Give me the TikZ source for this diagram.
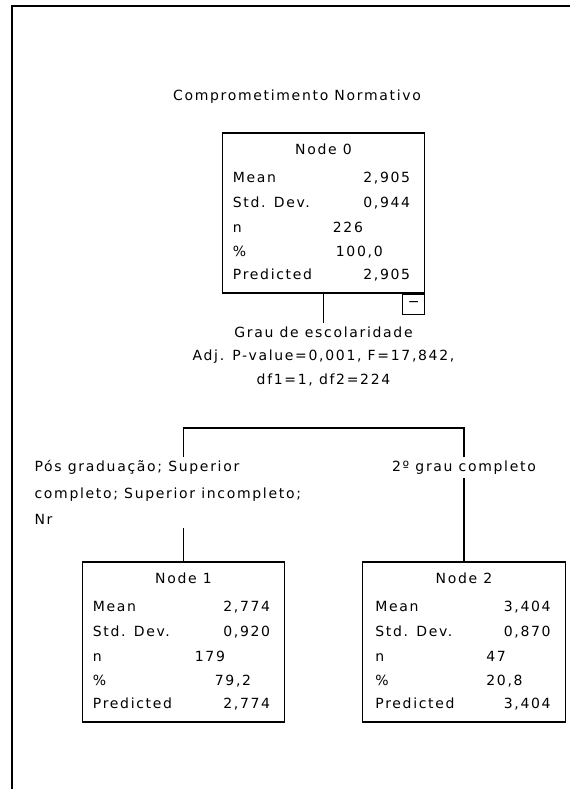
\documentclass[tikz,border=0pt]{standalone}
\usepackage{fontspec}
\setmainfont{DejaVu Sans}[LetterSpace=12]
\usetikzlibrary{positioning, calc}

\begin{document}
\begin{tikzpicture}[
    x=0.75pt, y=-0.75pt,
    every node/.style={font=\fontsize{10.5}{18.75}\selectfont, inner sep=0pt},
    treebox/.style={rectangle, draw=black, line width=0.8pt, minimum width=152pt, minimum height=120pt},
    foldbox/.style={rectangle, draw=black, line width=0.8pt, minimum width=16.5pt, minimum height=15pt},
    link/.style={black, line width=0.9pt},
    splitlabel/.style={inner sep=2.5pt, align=center, font=\fontsize{10.5}{17.6}\selectfont},
    catlabel/.style={inner sep=2.5pt, fill=white, align=left, font=\fontsize{10.5}{19.9}\selectfont}
]
\useasboundingbox (0,0) rectangle (570,789);
\draw[line width=2pt] (12,789) -- (12,6) -- (570,6);
\node (title) at (297,97) {Comprometimento Normativo};
% root
\node[treebox] (node0) at (323.5,213) {};
\node[anchor=base] (node0title) at ($(node0.north)+(0,22)$) {Node 0};
\foreach \lbl/\yy [count=\r] in {Mean/50, Std. Dev./75, n/100, \%/124, Predicted/147} {
    \node[anchor=base west] (node0lbl\r) at ($(node0.north west)+(11,\yy)$) {\lbl};
}
\node[anchor=base east] (node0mean) at ($(node0.north east)+(-15,50)$) {2,905};
\node[anchor=base east] (node0sd) at ($(node0.north east)+(-15,75)$) {0,944};
\node[anchor=base west] (node0n) at ($(node0.north west)+(111,100)$) {226};
\node[anchor=base west] (node0pct) at ($(node0.north west)+(114,124)$) {100,0};
\node[anchor=base east] (node0pred) at ($(node0.north east)+(-15,147)$) {2,905};
\node[foldbox, anchor=north east] (node0fold) at (node0.south east) {−};
\node[splitlabel, anchor=north] (split0) at (323.5,323) {Grau de escolaridade\\Adj. P-value=0,001, F=17,842,\\df1=1, df2=224};
\draw[link] (node0.south) -- (split0.north);
\coordinate (bar0) at (323.5,428);
% children
\node[treebox] (node1) at (183.5,642) {};
\node[anchor=base] (node1title) at ($(node1.north)+(0,22)$) {Node 1};
\foreach \lbl/\yy [count=\r] in {Mean/50, Std. Dev./75, n/100, \%/124, Predicted/147} {
    \node[anchor=base west] (node1lbl\r) at ($(node1.north west)+(11,\yy)$) {\lbl};
}
\node[anchor=base east] (node1mean) at ($(node1.north east)+(-15,50)$) {2,774};
\node[anchor=base east] (node1sd) at ($(node1.north east)+(-15,75)$) {0,920};
\node[anchor=base west] (node1n) at ($(node1.north west)+(113,100)$) {179};
\node[anchor=base west] (node1pct) at ($(node1.north west)+(133,124)$) {79,2};
\node[anchor=base east] (node1pred) at ($(node1.north east)+(-15,147)$) {2,774};
\node[treebox] (node2) at (464,642) {};
\node[anchor=base] (node2title) at ($(node2.north)+(0,22)$) {Node 2};
\foreach \lbl/\yy [count=\r] in {Mean/50, Std. Dev./75, n/100, \%/124, Predicted/147} {
    \node[anchor=base west] (node2lbl\r) at ($(node2.north west)+(13,\yy)$) {\lbl};
}
\node[anchor=base east] (node2mean) at ($(node2.north east)+(-15,50)$) {3,404};
\node[anchor=base east] (node2sd) at ($(node2.north east)+(-15,75)$) {0,870};
\node[anchor=base west] (node2n) at ($(node2.north west)+(124,100)$) {47};
\node[anchor=base west] (node2pct) at ($(node2.north west)+(124,124)$) {20,8};
\node[anchor=base east] (node2pred) at ($(node2.north east)+(-15,147)$) {3,404};
\node[catlabel, anchor=north west] (cat1) at (31,457) {Pós graduação; Superior\\completo; Superior incompleto;\\Nr};
\node[catlabel, anchor=north] (cat2) at (464,457) {2º grau completo};
\draw[link] (node1.north |- cat1.north) -- (node1.north |- bar0) -- (node2.north |- bar0) -- (cat2.north);
\draw[link] (node1.north |- cat1.south) -- (node1.north);
\draw[link] (cat2.south) -- (node2.north);
\end{tikzpicture}
\end{document}
